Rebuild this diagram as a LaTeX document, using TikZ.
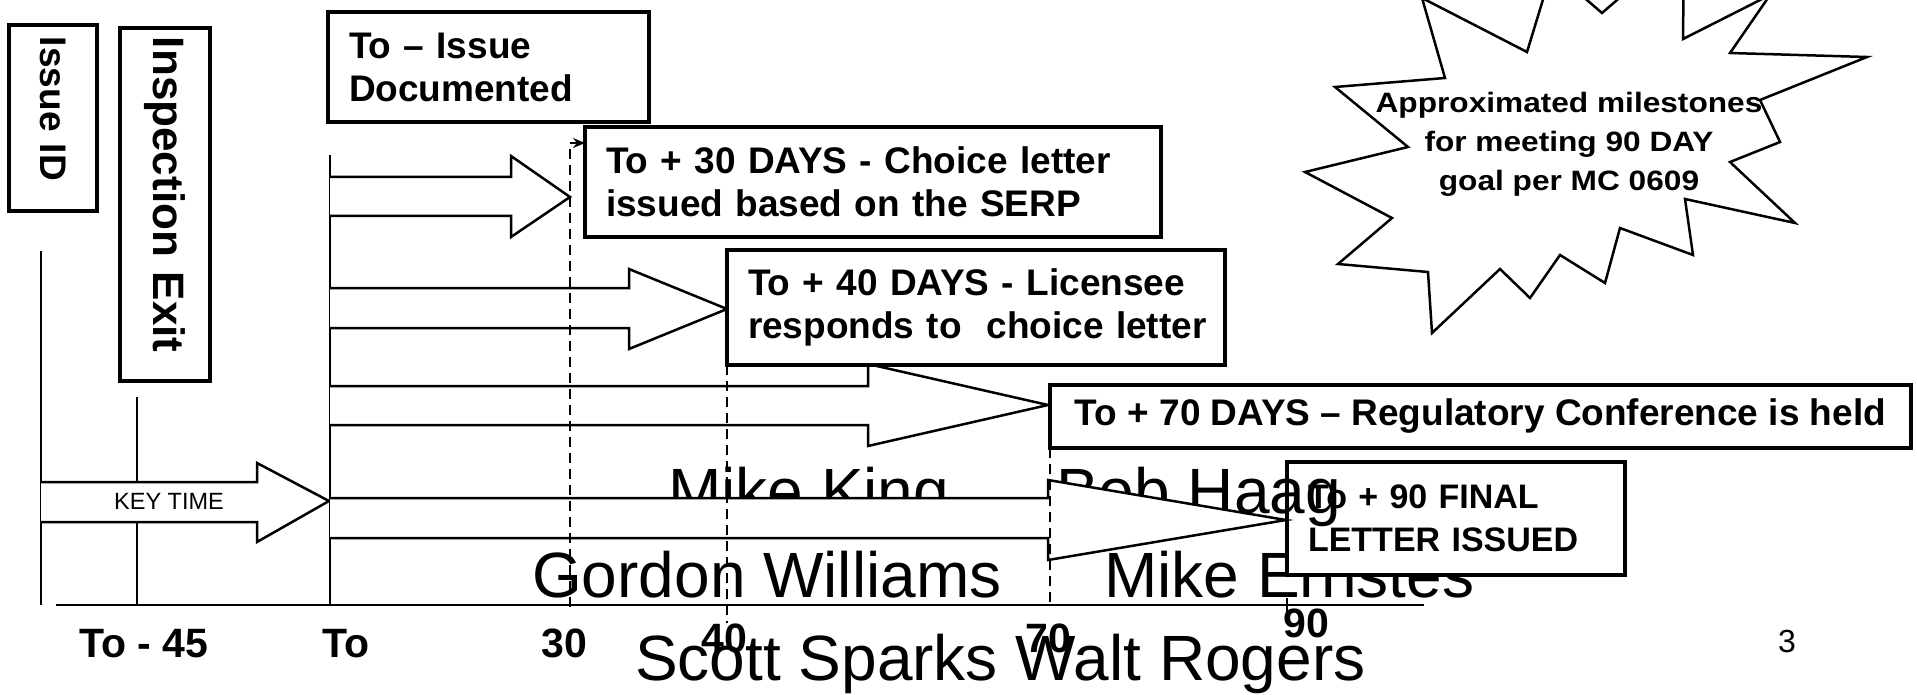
\documentclass[tikz,border=0pt]{standalone}
\usepackage{fontspec}
\setmainfont{Liberation Sans}
\newfontfamily\widesans[FakeStretch=1.13]{Liberation Sans}
\usetikzlibrary{arrows.meta,positioning}

\begin{document}
\begin{tikzpicture}[x=1pt, y=-1pt,
  box/.style={draw, line width=3.5pt, fill=white, anchor=north west,
              inner xsep=21pt, inner ysep=0pt, outer sep=0pt, align=left,
              font=\fontsize{37}{43}\selectfont\bfseries},
  vbox/.style={box, anchor=center, rotate=-90, inner xsep=12pt},
  blk/.style={draw, fill=white, line width=2.5pt},
  tline/.style={line width=2.5pt},
  dline/.style={line width=2.5pt, dash pattern=on 10pt off 6pt},
  daylbl/.style={font=\fontsize{41}{41}\selectfont\bfseries, anchor=base, inner sep=0pt},
  who/.style={font=\fontsize{64}{64}\selectfont, anchor=base west, inner sep=0pt}
]
  \fill[white] (0,0) rectangle (1917,695);
  \useasboundingbox (0,0) rectangle (1917,695);

  % the burst with the 90 day note
  \begin{scope}
    \clip (0,0) rectangle (1917,695);
    \draw[blk] (1422,-2) -- (1527,52) -- (1552,-30) -- (1602,13) -- (1684,-58)
      -- (1683,39) -- (1770,-5) -- (1730,53) -- (1867,57) -- (1760,100)
      -- (1780,142) -- (1730,162) -- (1795,223) -- (1685,199) -- (1693,255)
      -- (1620,228) -- (1605,283) -- (1560,255) -- (1530,298) -- (1500,269)
      -- (1432,333) -- (1428,272) -- (1338,264) -- (1392,218) -- (1305,172)
      -- (1408,147) -- (1335,87) -- (1445,78) -- cycle;
  \end{scope}
  \node[font=\widesans\bfseries\fontsize{28}{39}\selectfont, align=center] (goal)
    at (1569,144) {Approximated milestones\\for meeting 90 DAY\\goal per MC 0609};

  % left hand labels
  \node[vbox, minimum width=186pt, minimum height=88pt, text width=162pt] (issue)
    at (53,118) {Issue ID};
  \node[vbox, minimum width=353pt, minimum height=90pt, text width=335pt,
        inner xsep=9pt, font=\fontsize{44}{44}\selectfont\bfseries] (exit)
    at (165,204.5) {Inspection Exit};
  \node[box, minimum width=321pt, minimum height=110pt, text width=279pt] (doc)
    at (328,12) {To – Issue\\Documented};

  % time lines
  \coordinate (idtop) at (41,251);   \coordinate (idbot) at (41,605);
  \coordinate (extop) at (137,397);  \coordinate (exbot) at (137,605);
  \coordinate (totop) at (330,155);  \coordinate (tobot) at (330,605);
  \coordinate (axl) at (56,605);     \coordinate (axr) at (1424,605);
  \draw[tline] (idtop) -- (idbot);
  \draw[tline] (extop) -- (exbot);
  \draw[tline] (totop) -- (tobot);
  \draw[tline] (axl) -- (axr);

  % names
  \node[who] (ernst) at (1104,597) {Mike Ernstes};
  \node[who] (gw) at (532,597) {Gordon Williams};
  \node[box, minimum width=338pt, minimum height=113pt, text width=296pt,
        font=\fontsize{34}{43}\selectfont\bfseries] (d90)
    at (1287,462) {To + 90 FINAL\\LETTER ISSUED};
  \node[who] (king) at (668,513) {Mike King};
  \node[who] (haag) at (1056,513) {Bob Haag};

  % block arrows
  \draw[blk] (41,482) -- (257,482) -- (257,463) -- (329,501) -- (257,542)
    -- (257,522) -- (41,522);
  \node[font=\fontsize{23.5}{24}\selectfont] (keyt) at (169,501) {KEY TIME};
  \draw[blk] (330,177) -- (511,177) -- (511,156) -- (570,197) -- (511,237)
    -- (511,216) -- (330,216);
  \draw[blk] (330,288) -- (629,288) -- (629,269) -- (727,309) -- (629,349)
    -- (629,328) -- (330,328);
  \draw[blk] (330,386) -- (868,386) -- (868,364) -- (1048,405) -- (868,446)
    -- (868,425) -- (330,425);
  \draw[blk] (330,498) -- (1048,498) -- (1048,480) -- (1286,520) -- (1048,560)
    -- (1048,538) -- (330,538);

  % milestone boxes
  \node[box, minimum width=576pt, minimum height=110pt, text width=534pt] (d30)
    at (585,127) {To + 30 DAYS - Choice letter\\issued based on the SERP};
  \node[box, minimum width=498pt, minimum height=115pt, text width=456pt] (d40)
    at (727,250) {To + 40 DAYS - Licensee\\\mbox{responds to~ choice letter}};
  \node[box, minimum width=861pt, minimum height=63pt] (d70)
    at (1050,385) {To + 70 DAYS – Regulatory Conference is held};

  \coordinate (c30) at (570,607);
  \draw[dline, -{Stealth[length=12pt, width=10pt]}] (c30) |- ([yshift=-16pt]d30.north west);
  \draw[dline] (d40.south west) -- ++(0,258);
  \draw[dline] (d70.south west) -- ++(0,157);
  \draw[tline] (1287,598) -- (1287,612);

  % day marks
  \node[daylbl] (tm45) at (144,657) {To - 45};
  \node[daylbl] (t0) at (346,657) {To};
  \node[daylbl] (t30) at (564,657) {30};
  \node[daylbl] (t40) at (724,652) {40};
  \node[daylbl] (t70) at (1048,652) {70};
  \node[daylbl] (t90) at (1306,637) {90};
  \node[font=\fontsize{32}{32}\selectfont, anchor=base, inner sep=0pt] (pg)
    at (1787,652) {3};
  \node[who] (sparks) at (635,680) {Scott Sparks Walt Rogers};
\end{tikzpicture}
\end{document}
